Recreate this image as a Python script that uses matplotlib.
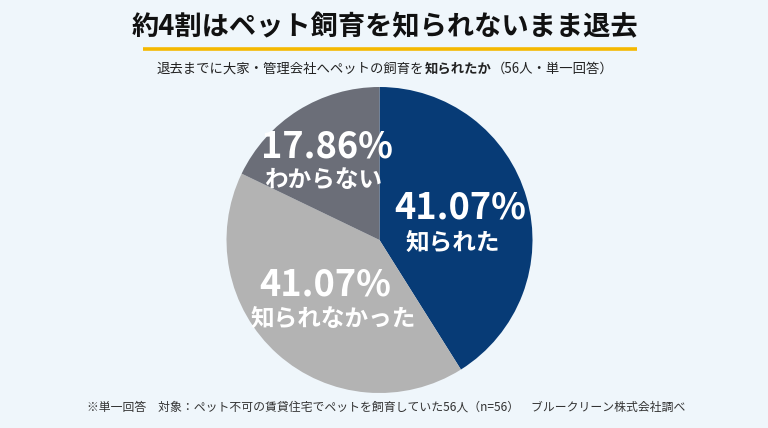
import matplotlib
matplotlib.use("Agg")
import matplotlib.pyplot as plt

plt.rcParams['font.family'] = ['Noto Sans CJK JP', 'DejaVu Sans']

labels = ["知られた", "知られなかった", "わからない"]
values = [41.07, 41.07, 17.86]
colors = ["#073b76", "#b3b3b3", "#6b6e78"]
# label centres in pixel coords (x, y from top) for percent and category
pct_pos = [(460, 208), (325, 285), (327, 147)]
name_pos = [(453, 244), (333, 320), (323, 181)]

title = "約4割はペット飼育を知られないまま退去"
subtitle_parts = [("退去までに大家・管理会社へペットの飼育を", "normal"),
                  ("知られたか", "bold"),
                  ("（56人・単一回答）", "normal")]
footer = "※単一回答　対象：ペット不可の賃貸住宅でペットを飼育していた56人（n=56）　ブルークリーン株式会社調べ"

W, H = 768, 428
fig = plt.figure(figsize=(W / 100, H / 100), dpi=100)
fig.patch.set_facecolor("#eff6fb")
ax = fig.add_axes([0, 0, 1, 1])

ax.pie(values, colors=colors, startangle=90, counterclock=False,
       center=(379.5, H - 240), radius=153, frame=True,
       wedgeprops=dict(linewidth=0))
ax.set_xlim(0, W)
ax.set_ylim(0, H)
ax.set_aspect("equal")
ax.axis("off")

for (px, py), v in zip(pct_pos, values):
    ax.text(px, H - py, f"{v:.2f}%", color="white", fontsize=26,
            fontweight="bold", ha="center", va="center")
for (px, py), name in zip(name_pos, labels):
    ax.text(px, H - py, name, color="white", fontsize=17,
            fontweight="bold", ha="center", va="center")

# title and underline
ax.text(385, H - 27, title, fontsize=19.6, fontweight="bold", color="#111111",
        ha="center", va="center")
ax.plot([143, 637], [H - 49, H - 49], color="#f5b800", linewidth=2.6,
        solid_capstyle="butt")

# subtitle with bold part
renderer = fig.canvas.get_renderer()
widths = []
for txt, wt in subtitle_parts:
    t = ax.text(0, 0, txt, fontsize=9.6, fontweight=wt)
    bb = t.get_window_extent(renderer)
    widths.append(bb.width)
    t.remove()
x = 385 - sum(widths) / 2
for (txt, wt), w in zip(subtitle_parts, widths):
    ax.text(x, H - 69, txt, fontsize=9.6, fontweight=wt, color="#222222",
            ha="left", va="center")
    x += w

ax.text(386, H - 407, footer, fontsize=8.55, color="#333333",
        ha="center", va="center")

fig.savefig("out.png", dpi=100, facecolor=fig.get_facecolor())
